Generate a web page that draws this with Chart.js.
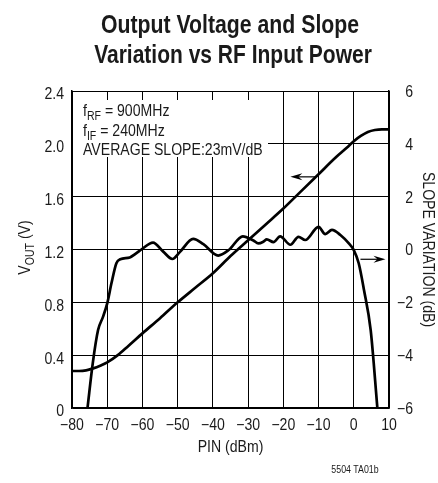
<!DOCTYPE html>
<html>
<head>
<meta charset="utf-8">
<script src="https://cdn.jsdelivr.net/npm/chart.js@4/dist/chart.umd.min.js"></script>
<style>
  html, body { margin: 0; padding: 0; background: #fff; }
  #wrap { width: 438px; height: 483px; position: relative; }
</style>
</head>
<body>
<div id="wrap"><canvas id="chart" width="438" height="483"></canvas></div>
<script>
// Datos
const pinVout = [-80, -78, -76, -74, -72, -70, -67, -64, -60, -55, -50, -45, -40, -35, -30, -25, -20, -15, -10, -5, -2, 0, 2, 4, 6, 8, 10];
const voutValues = [0.28, 0.28, 0.285, 0.30, 0.32, 0.345, 0.40, 0.47, 0.565, 0.68, 0.80, 0.91, 1.02, 1.15, 1.27, 1.39, 1.51, 1.64, 1.77, 1.90, 1.97, 2.02, 2.06, 2.09, 2.105, 2.11, 2.11];

const pinSlope = [-75.6, -74.1, -72.6, -71.2, -70, -68.8, -67.4, -66.3, -63.6, -61.7, -60.3, -57, -54.1, -51.5, -49.4, -45.6, -42.7, -38.5, -35.5, -31.5, -28.5, -27.1, -25.6, -24.7, -22.8, -20.9, -18, -15.7, -13.8, -10, -8.1, -6.2, -3.8, -1.4, 0, 1.4, 2.9, 4.8, 6.7];
const slopeValues = [-6, -4.3, -3.05, -2.55, -2.04, -1.28, -0.52, -0.37, -0.30, -0.14, 0, 0.26, -0.08, -0.36, -0.1, 0.4, 0.2, -0.23, -0.02, 0.5, 0.34, 0.23, 0.3, 0.38, 0.28, 0.5, 0.18, 0.48, 0.36, 0.86, 0.58, 0.74, 0.55, 0.23, -0.02, -0.52, -1.53, -3.05, -6];

const xTicks = [-80, -70, -60, -50, -40, -30, -20, -10, 0, 10];
const voutTicks = [0, 0.4, 0.8, 1.2, 1.6, 2.0, 2.4];
const slopeTicks = [-6, -4, -2, 0, 2, 4, 6];

const titleLines = ['Output Voltage and Slope', 'Variation vs RF Input Power'];
const noteLines = [
    { main: 'f', sub: 'RF', rest: ' = 900MHz' },
    { main: 'f', sub: 'IF', rest: ' = 240MHz' },
    { main: 'AVERAGE SLOPE:23mV/dB', sub: '', rest: '' }
];
// Flechas: [x inicio, x fin, valor y] en unidades de datos
const arrowVout = [-10.9, -18.0, 1.75];
const arrowSlope = [1.9, 9.0, -0.37];

const FONT = "'Liberation Sans', Arial, sans-serif";
const SX = 0.88;      // compresión horizontal (tipografía condensada del original)
const TXT = '#1a1a1a';

function minus(v) {
    return String(v).replace('-', '\u2212');
}

// Texto condensado: escala horizontal alrededor del punto de anclaje
function condText(ctx, text, x, y, size, opts) {
    const o = opts || {};
    ctx.save();
    ctx.translate(x, y);
    if (o.rotate) ctx.rotate(o.rotate);
    ctx.scale(o.sx || SX, 1);
    ctx.font = (o.weight ? o.weight + ' ' : '') + size + 'px ' + FONT;
    ctx.textAlign = o.align || 'left';
    ctx.textBaseline = o.baseline || 'alphabetic';
    ctx.fillStyle = TXT;
    ctx.fillText(text, 0, 0);
    ctx.restore();
}

// Texto con subíndice en coordenadas locales (ya escaladas)
function subText(ctx, x, y, main, sub, rest, size) {
    ctx.font = size + 'px ' + FONT;
    ctx.fillText(main, x, y);
    let cx = x + ctx.measureText(main).width;
    if (sub) {
        ctx.font = Math.round(size * 0.75) + 'px ' + FONT;
        ctx.fillText(sub, cx, y + 4);
        cx += ctx.measureText(sub).width;
        ctx.font = size + 'px ' + FONT;
    }
    if (rest) ctx.fillText(rest, cx, y);
    return cx + (rest ? ctx.measureText(rest).width : 0) - x;
}

function subWidth(ctx, main, sub, rest, size) {
    ctx.font = size + 'px ' + FONT;
    let w = ctx.measureText(main + rest).width;
    ctx.font = Math.round(size * 0.75) + 'px ' + FONT;
    return w + (sub ? ctx.measureText(sub).width : 0);
}

function drawArrow(ctx, x1, x2, y) {
    const dir = x2 > x1 ? 1 : -1;
    ctx.save();
    ctx.strokeStyle = '#000';
    ctx.fillStyle = '#000';
    ctx.lineWidth = 1.2;
    ctx.beginPath();
    ctx.moveTo(x1, y);
    ctx.lineTo(x2 - dir * 6, y);
    ctx.stroke();
    ctx.beginPath();
    ctx.moveTo(x2, y);
    ctx.lineTo(x2 - dir * 12, y - 3.5);
    ctx.lineTo(x2 - dir * 8, y);
    ctx.lineTo(x2 - dir * 12, y + 3.5);
    ctx.closePath();
    ctx.fill();
    ctx.restore();
}

const notesPlugin = {
    id: 'notes',
    beforeDatasetsDraw(chart) {
        const { ctx, chartArea } = chart;
        // fondo blanco detrás del texto de condiciones
        ctx.save();
        ctx.fillStyle = '#fff';
        ctx.fillRect(chartArea.left + 1, chartArea.top + 9, 195, 57);
        ctx.restore();
    },
    afterDraw(chart) {
        const { ctx, chartArea, scales } = chart;
        const xs = scales.x, yl = scales.y, yr = scales.y2;

        // título
        condText(ctx, titleLines[0], 230, 33, 25, { weight: 'bold', align: 'center', sx: 0.85 });
        condText(ctx, titleLines[1], 233, 63, 25, { weight: 'bold', align: 'center', sx: 0.84 });

        // etiquetas de los ejes
        xTicks.forEach(v => {
            condText(ctx, minus(v), xs.getPixelForValue(v), 426, 16, { align: 'center', baseline: 'middle' });
        });
        voutTicks.forEach(v => {
            condText(ctx, v === 0 ? '0' : v.toFixed(1), 64, yl.getPixelForValue(v) + 4, 16, { align: 'right', baseline: 'middle' });
        });
        slopeTicks.forEach(v => {
            condText(ctx, minus(v), 413, yr.getPixelForValue(v) + 1.5, 16, { align: 'right', baseline: 'middle' });
        });

        // notas con subíndices
        ctx.save();
        ctx.fillStyle = TXT;
        ctx.textAlign = 'left';
        ctx.textBaseline = 'alphabetic';
        noteLines.forEach((n, i) => {
            ctx.save();
            ctx.translate(chartArea.left + 11, 116 + i * 19.5);
            ctx.scale(SX, 1);
            subText(ctx, 0, 0, n.main, n.sub, n.rest, 16);
            ctx.restore();
        });
        ctx.restore();

        // título eje x
        condText(ctx, 'PIN (dBm)', (chartArea.left + chartArea.right) / 2, 452, 16, { align: 'center' });

        // título eje y izquierdo (VOUT con subíndice)
        ctx.save();
        ctx.fillStyle = TXT;
        ctx.translate(30, (chartArea.top + chartArea.bottom) / 2 - 2);
        ctx.rotate(-Math.PI / 2);
        ctx.scale(SX, 1);
        ctx.textAlign = 'left';
        const wv = subWidth(ctx, 'V', 'OUT', ' (V)', 16);
        subText(ctx, -wv / 2, 0, 'V', 'OUT', ' (V)', 16);
        ctx.restore();

        // título eje y derecho
        condText(ctx, 'SLOPE VARIATION (dB)', 423, (chartArea.top + chartArea.bottom) / 2, 16,
            { align: 'center', rotate: Math.PI / 2 });

        // pie
        condText(ctx, '5504 TA01b', 355, 473, 10, { align: 'center' });

        // flechas
        drawArrow(ctx, xs.getPixelForValue(arrowVout[0]), xs.getPixelForValue(arrowVout[1]), yl.getPixelForValue(arrowVout[2]));
        drawArrow(ctx, xs.getPixelForValue(arrowSlope[0]), xs.getPixelForValue(arrowSlope[1]), yr.getPixelForValue(arrowSlope[2]));
    }
};

const chartConfig = {
    type: 'line',
    data: {
        datasets: [
            {
                label: 'VOUT',
                data: pinVout.map((x, i) => ({ x: x, y: voutValues[i] })),
                yAxisID: 'y',
                borderColor: '#000',
                borderWidth: 2.7,
                pointRadius: 0,
                cubicInterpolationMode: 'monotone'
            },
            {
                label: 'Slope variation',
                data: pinSlope.map((x, i) => ({ x: x, y: slopeValues[i] })),
                yAxisID: 'y2',
                borderColor: '#000',
                borderWidth: 2.7,
                pointRadius: 0,
                cubicInterpolationMode: 'monotone'
            }
        ]
    },
    options: {
        responsive: false,
        animation: false,
        layout: { padding: { top: 91, left: 0, right: 0, bottom: 0 } },
        plugins: {
            legend: { display: false },
            tooltip: { enabled: false },
            title: { display: false }
        },
        scales: {
            x: {
                type: 'linear',
                min: -80,
                max: 10,
                afterBuildTicks: s => { s.ticks = xTicks.map(v => ({ value: v })); },
                afterFit: s => { s.height = 75; },
                ticks: { display: false },
                grid: { color: '#000', lineWidth: 1, drawTicks: false },
                border: { color: '#000', width: 1.5 }
            },
            y: {
                position: 'left',
                min: 0,
                max: 2.4,
                afterBuildTicks: s => { s.ticks = voutTicks.map(v => ({ value: v })); },
                afterFit: s => { s.width = 72; },
                ticks: { display: false },
                grid: { color: '#000', lineWidth: 1, drawTicks: false },
                border: { color: '#000', width: 1.5 }
            },
            y2: {
                position: 'right',
                min: -6,
                max: 6,
                afterBuildTicks: s => { s.ticks = slopeTicks.map(v => ({ value: v })); },
                afterFit: s => { s.width = 49; },
                ticks: { display: false },
                grid: { drawOnChartArea: false, drawTicks: false },
                border: { color: '#000', width: 1.5 }
            }
        }
    },
    plugins: [notesPlugin]
};

new Chart(document.getElementById('chart'), chartConfig);
</script>
</body>
</html>
